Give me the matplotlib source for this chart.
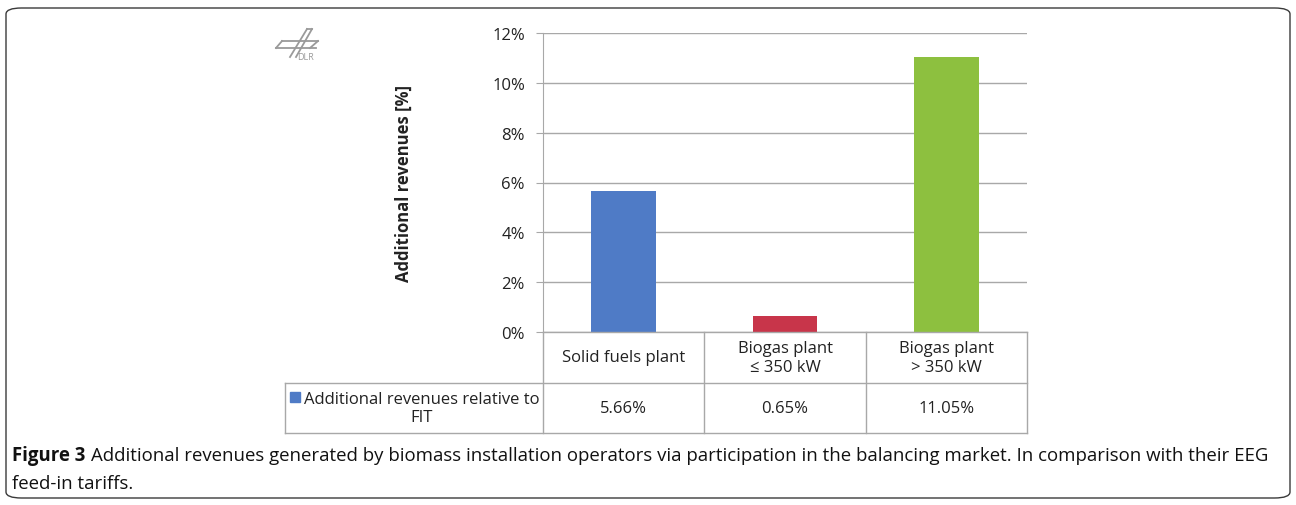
import matplotlib
matplotlib.use("Agg")
import matplotlib.pyplot as plt
from matplotlib.patches import FancyBboxPatch, Rectangle
from matplotlib.lines import Line2D

categories = ["Solid fuels plant", "Biogas plant\n≤ 350 kW", "Biogas plant\n> 350 kW"]
values = [5.66, 0.65, 11.05]
value_labels = ["5.66%", "0.65%", "11.05%"]
series_name = "Additional revenues relative to\nFIT"
bar_colors = ["#4F7BC6", "#C8354A", "#8DC03F"]
yticks = [0, 2, 4, 6, 8, 10, 12]
ylabel = "Additional revenues [%]"

plt.rcParams['font.family'] = ['Open Sans', 'DejaVu Sans']

W, H = 1296, 506
fig = plt.figure(figsize=(W / 100, H / 100), dpi=100)

def fx(px):
    return px / W

def fy(py):
    return 1 - py / H

# outer rounded border
border = FancyBboxPatch((fx(6), fy(499)), fx(1290) - fx(6), fy(9) - fy(499),
                        boxstyle="round,pad=0,rounding_size=0.012",
                        transform=fig.transFigure, fill=False,
                        edgecolor="#3a3a3a", linewidth=1.0)
fig.patches.append(border)

ax_l, ax_r, ax_t, ax_b = 543, 1027, 34, 333
ax = fig.add_axes([fx(ax_l), fy(ax_b), fx(ax_r) - fx(ax_l), fy(ax_t) - fy(ax_b)])
x = list(range(len(categories)))
ax.bar(x, values, width=0.4, color=bar_colors, zorder=3)
ax.set_xlim(-0.5, len(categories) - 0.5)
ax.set_ylim(0, 12)
ax.set_yticks(yticks)
ax.set_yticklabels([f"{v}%" for v in yticks], fontsize=12, color="#222222")
ax.set_xticks([])
ax.yaxis.grid(True, color="#a8a8a8", linewidth=1.0, zorder=0)
for s in ["top", "right", "bottom"]:
    ax.spines[s].set_visible(False)
ax.spines["left"].set_color("#a8a8a8")
ax.tick_params(axis="y", length=5, color="#a8a8a8", pad=8, direction="out")
ax.set_ylabel(ylabel, fontsize=12, fontweight="bold", labelpad=57, color="#222222")

# table beneath
cat_w = (ax_r - ax_l) / len(categories)
row1_b, row2_b = 384, 434
left_px = 285
lc = "#a8a8a8"
def hline(y, x0, x1):
    fig.add_artist(Line2D([fx(x0), fx(x1)], [fy(y), fy(y)], color=lc, lw=1.0))
def vline(xp, y0, y1):
    fig.add_artist(Line2D([fx(xp), fx(xp)], [fy(y0), fy(y1)], color=lc, lw=1.0))

hline(ax_b, ax_l, ax_r)
hline(row1_b, left_px, ax_r)
hline(row2_b, left_px, ax_r)
vline(left_px, row1_b, row2_b)
for i in range(len(categories) + 1):
    vline(ax_l + i * cat_w, ax_b, row2_b)

for i, (c, v) in enumerate(zip(categories, value_labels)):
    cx = ax_l + (i + 0.5) * cat_w
    fig.text(fx(cx), fy((ax_b + row1_b) / 2), c, ha="center", va="center",
             fontsize=12, color="#222222", linespacing=1.2)
    fig.text(fx(cx), fy((row1_b + row2_b) / 2), v, ha="center", va="center",
             fontsize=12, color="#222222")

# legend cell
fig.text(fx(422), fy((row1_b + row2_b) / 2), series_name,
         ha="center", va="center", fontsize=12, color="#222222", linespacing=1.2)
fig.patches.append(Rectangle((fx(290), fy(403)), fx(10), fy(393) - fy(403),
                             transform=fig.transFigure, color=bar_colors[0]))

# DLR logo (approximation)
lg = "#9a9a9a"
logo_lines = [
    [(276, 49), (316, 49)], [(282, 42), (318, 42)],
    [(276, 49), (282, 42)], [(310, 49), (318, 42)],
    [(290, 58), (307, 30)], [(296, 58), (312, 30)],
    [(307, 30), (312, 30)],
]
for seg in logo_lines:
    (x0, y0), (x1, y1) = seg
    fig.add_artist(Line2D([fx(x0), fx(x1)], [fy(y0), fy(y1)], color=lg, lw=1.3))
fig.text(fx(306), fy(57), "DLR", ha="center", va="center", fontsize=6.5, color=lg)

# caption
cap_fs = 13.4
fig.text(fx(12), fy(456), "Figure 3", ha="left", va="center", fontsize=cap_fs,
         fontweight="bold", color="#111111")
fig.text(fx(91), fy(456),
         "Additional revenues generated by biomass installation operators via participation in the balancing market. In comparison with their EEG",
         ha="left", va="center", fontsize=cap_fs, color="#111111")
fig.text(fx(12), fy(484), "feed-in tariffs.", ha="left", va="center", fontsize=cap_fs,
         color="#111111")

fig.savefig("out.png", dpi=100)
